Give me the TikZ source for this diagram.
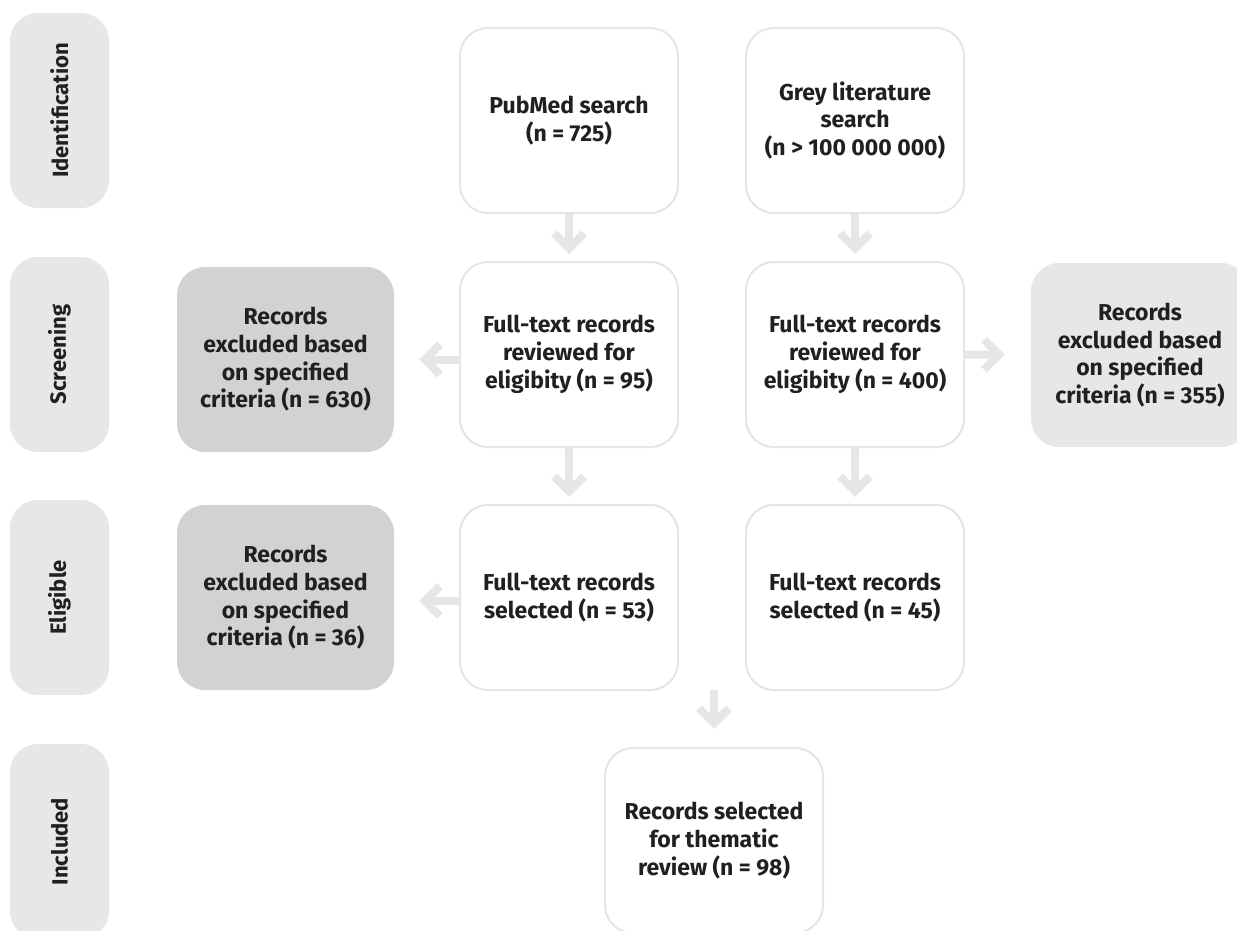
\documentclass[tikz,border=0pt]{standalone}
\usepackage{fontspec}
\setmainfont{Fira Sans}
\usetikzlibrary{arrows.meta}
\definecolor{txt}{HTML}{231F20}
\definecolor{bord}{HTML}{E4E5E6}
\definecolor{stagefill}{HTML}{E6E7E8}
\definecolor{darkfill}{HTML}{D1D2D4}
\definecolor{arrowc}{HTML}{E5E6E8}
\begin{document}
\begin{tikzpicture}[x=1pt,y=-1pt,
  every node/.style={font=\fontsize{23}{27.7}\selectfont\bfseries, text=txt, align=center, inner sep=0pt},
  boxw/.style={draw=bord, line width=2pt, fill=white, rounded corners=28pt, minimum width=218pt, minimum height=185pt},
  stagebox/.style={fill=stagefill, rounded corners=28pt, minimum width=195pt, minimum height=99pt, rotate=90, font=\fontsize{22}{26}\selectfont\bfseries},
  exdark/.style={fill=darkfill, rounded corners=28pt, minimum width=217pt, minimum height=185pt},
  exlight/.style={fill=stagefill, rounded corners=28pt, minimum width=218pt, minimum height=184pt},
  arr/.style={draw=arrowc, line width=8pt, -{Straight Barb[length=15pt,width=30pt]}}
]
\useasboundingbox (0,0) rectangle (1237,931);
\fill[white] (0,0) rectangle (1237,931);

% stage labels
\node[stagebox] (sid) at (59.5,110.5) {Identification};
\node[stagebox] (sscr) at (59.5,354.5) {Screening};
\node[stagebox] (selig) at (59.5,597.5) {Eligible};
\node[stagebox] (sinc) at (59.5,841.5) {Included};

% main boxes
\node[boxw] (pub) at (569,120.5) {PubMed search\\(n = 725)};
\node[boxw] (grey) at (855,120.5) {Grey literature\\search\\(n > 100 000 000)};
\node[boxw] (ft95) at (569,354.5) {Full-text records\\reviewed for\\eligibity (n = 95)};
\node[boxw] (ft400) at (855,354.5) {Full-text records\\reviewed for\\eligibity (n = 400)};
\node[boxw] (ft53) at (569,597.5) {Full-text records\\selected (n = 53)};
\node[boxw] (ft45) at (855,597.5) {Full-text records\\selected (n = 45)};
\node[boxw] (final) at (714,840.5) {Records selected\\for thematic\\review (n = 98)};

% exclusion boxes
\node[exdark] (ex630) at (285.5,359.5) {Records\\excluded based\\on specified\\criteria (n = 630)};
\node[exdark] (ex36) at (285.5,597.5) {Records\\excluded based\\on specified\\criteria (n = 36)};
\node[exlight] (ex355) at (1140,355) {Records\\excluded based\\on specified\\criteria (n = 355)};

% connectors
\draw[arr, shorten >=7pt] (pub) -- (ft95);
\draw[arr, shorten >=7pt] (grey) -- (ft400);
\draw[arr, shorten >=7pt] (ft95) -- (ft53);
\draw[arr, shorten >=7pt] (ft400) -- (ft45);
\draw[arr, shorten >=25pt] (ft95.west |- ex630.east) -- (ex630.east);
\draw[arr, shorten >=25pt] (ft53.west |- 0,601) -- (ex36.east |- 0,601);
\draw[arr, shorten >=26pt] (ft400.east) -- (ex355.west);
\coordinate (mid) at (714,690);
\draw[arr, shorten >=18pt] (mid) -- (final.north);
\end{tikzpicture}
\end{document}
